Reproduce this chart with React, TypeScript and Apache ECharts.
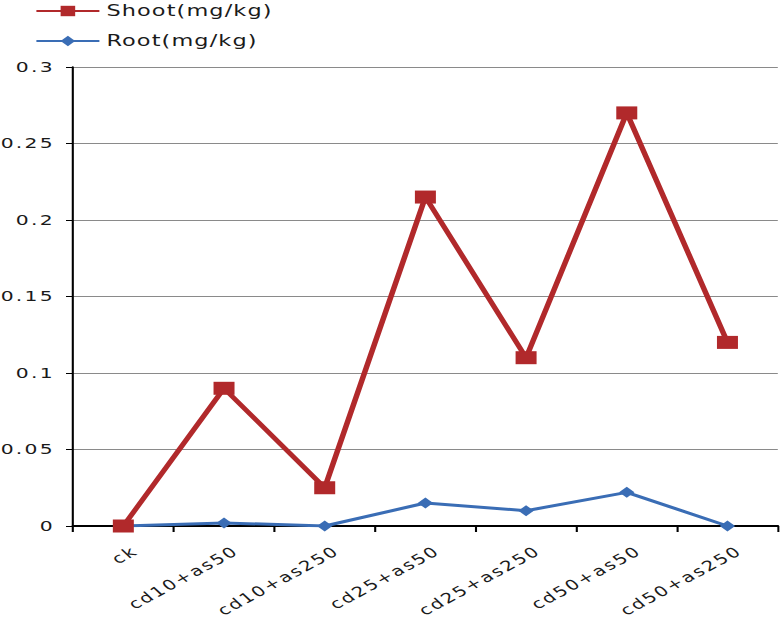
import React, { useEffect, useRef } from "react";
import * as echarts from "echarts";

const categories = ["ck", "cd10+as50", "cd10+as250", "cd25+as50", "cd25+as250", "cd50+as50", "cd50+as250"];
const shootValues = [0, 0.09, 0.025, 0.215, 0.11, 0.27, 0.12];
const rootValues = [0, 0.002, 0, 0.015, 0.01, 0.022, 0];
const seriesNames = ["Shoot(mg/kg)", "Root(mg/kg)"];

const FONT = "DejaVu Sans";
const TEXT = "#1a1a1a";
const STRETCH = 1.4; // the reference is drawn horizontally stretched
const W = 780 / STRETCH;
const H = 620;

export default function App() {
  const ref = useRef<HTMLDivElement>(null);
  useEffect(() => {
    document.body.style.margin = "0";
    const chart = echarts.init(ref.current!, undefined, { renderer: "svg" });
    chart.setOption({
      animation: false,
      backgroundColor: "#ffffff",
      legend: {
        orient: "vertical",
        left: 20,
        top: -2,
        itemWidth: 45,
        itemHeight: 13,
        itemGap: 14,
        textStyle: { fontFamily: FONT, fontSize: 16, color: TEXT },
        data: seriesNames,
      },
      grid: { left: 73 / STRETCH, right: 2 / STRETCH, top: 67, bottom: 94 },
      xAxis: {
        type: "category",
        data: categories,
        boundaryGap: true,
        axisLine: { lineStyle: { color: "#000", width: 2 } },
        axisTick: { show: true, length: 6, lineStyle: { color: "#000", width: 1.5 } },
        axisLabel: {
          rotate: 37,
          interval: 0,
          margin: 12,
          verticalAlign: "top",
          lineHeight: 28,
          fontFamily: FONT,
          fontSize: 14,
          color: TEXT,
        },
      },
      yAxis: {
        type: "value",
        min: 0,
        max: 0.3,
        interval: 0.05,
        axisLine: { show: true, lineStyle: { color: "#000", width: 1.5 } },
        axisTick: { show: true, length: 5, lineStyle: { color: "#000", width: 1 } },
        splitLine: { show: true, lineStyle: { color: "#8a8a8a", width: 1 } },
        axisLabel: {
          margin: 13,
          fontFamily: FONT,
          fontSize: 14.5,
          color: TEXT,
        },
      },
      series: [
        {
          name: seriesNames[0],
          type: "line",
          data: shootValues,
          symbol: "rect",
          symbolSize: [15, 13],
          color: "#b1292b",
          lineStyle: { width: 4, color: "#b1292b" },
          itemStyle: { color: "#b1292b" },
          z: 3,
        },
        {
          name: seriesNames[1],
          type: "line",
          data: rootValues,
          symbol: "diamond",
          symbolSize: [11, 11],
          color: "#3a6db5",
          lineStyle: { width: 3, color: "#3a6db5" },
          itemStyle: { color: "#3a6db5" },
          z: 2,
        },
      ],
    });
    return () => chart.dispose();
  }, []);
  return (
    <>
      <style>{`.chartbox text { letter-spacing: 1.6px; } .chartbox text[style*="16px"] { letter-spacing: 0.8px; }`}</style>
      <div
        className="chartbox"
        ref={ref}
        style={{ width: W, height: H, transform: `scaleX(${STRETCH})`, transformOrigin: "0 0" }}
      />
    </>
  );
}
